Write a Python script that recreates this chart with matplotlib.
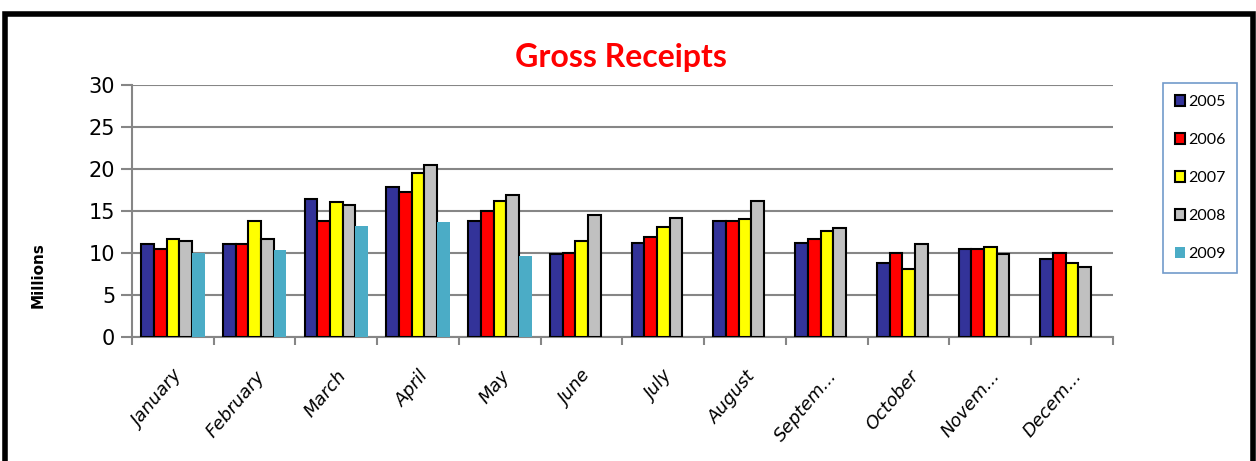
import matplotlib.pyplot as plt
import numpy as np
from matplotlib.patches import Rectangle

months = ["January", "February", "March", "April", "May", "June",
          "July", "August", "Septem...", "October", "Novem...", "Decem..."]
years = ["2005", "2006", "2007", "2008", "2009"]

r2005 = [11.0, 11.0, 16.4, 17.9, 13.8, 9.8, 11.2, 13.8, 11.2, 8.8, 10.4, 9.3]
r2006 = [10.5, 11.0, 13.8, 17.2, 15.0, 10.0, 11.9, 13.8, 11.7, 10.0, 10.4, 10.0]
r2007 = [11.6, 13.8, 16.0, 19.5, 16.2, 11.4, 13.1, 14.0, 12.6, 8.1, 10.7, 8.8]
r2008 = [11.4, 11.7, 15.7, 20.5, 16.9, 14.5, 14.1, 16.2, 12.9, 11.0, 9.8, 8.3]
r2009 = [10.0, 10.3, 13.2, 13.7, 9.6]

series = [r2005, r2006, r2007, r2008, r2009]
colors = ["#333399", "#FF0000", "#FFFF00", "#C0C0C0", "#4BACC6"]

fig = plt.figure(figsize=(12.56, 4.61), dpi=100)
ax = fig.add_axes([0.1051, 0.2696, 0.7810, 0.5460])

x = np.arange(len(months))
w = 0.155
for i, vals in enumerate(series):
    pos = x[:len(vals)] + (i - 2) * w
    if i < 4:
        ax.bar(pos, vals, w, color=colors[i], edgecolor="black", linewidth=1.5,
               label=years[i], zorder=3)
    else:
        ax.bar(pos, vals, w, color=colors[i], linewidth=0, label=years[i], zorder=3)

ax.set_xlim(-0.5, len(months) - 0.5)
ax.set_ylim(0, 30)
ax.set_yticks(range(0, 31, 5))
ax.grid(axis="y", color="#868686", linewidth=1.5, zorder=0)
ax.set_axisbelow(True)

for s in ["top", "right"]:
    ax.spines[s].set_visible(False)
for s in ["left", "bottom"]:
    ax.spines[s].set_color("#868686")
    ax.spines[s].set_linewidth(1.5)

ax.set_xticks(np.arange(-0.5, len(months), 1.0), minor=False)
ax.set_xticklabels([])
ax.set_xticks(x, minor=True)
ax.set_xticklabels(months, minor=True, rotation=50, ha="right", va="top",
                   rotation_mode="anchor", fontsize=13, style="italic")
ax.tick_params(axis="x", which="major", length=6, width=1.5, color="#868686")
ax.tick_params(axis="x", which="minor", length=0, pad=22)
ax.tick_params(axis="y", length=8, width=1.5, color="#868686", labelsize=15, pad=4)

fig.text(0.030, 0.403, "Millions", fontsize=11, fontweight="bold",
         rotation=90, ha="center", va="center")

fig.text(0.494, 0.875, "Gross Receipts", color="#FF0000", fontsize=23,
         fontweight="bold", ha="center", va="center", fontstretch="condensed",
         family=["Liberation Sans Narrow", "Lato", "DejaVu Sans"])

leg = fig.legend(loc="upper left", bbox_to_anchor=(0.926, 0.820), frameon=True,
                 fancybox=False, prop={"family": "Lato", "size": 11.5},
                 handlelength=0.65, handleheight=0.65, borderaxespad=0,
                 handletextpad=0.15, labelspacing=1.5, borderpad=0.75)
leg.get_frame().set_edgecolor("#4F81BD")
leg.get_frame().set_linewidth(1.2)

fig.patches.append(Rectangle((0.004, -0.05), 0.994, 1.02, transform=fig.transFigure,
                             fill=False, edgecolor="black", linewidth=4))

fig.savefig("out.png", dpi=100)
